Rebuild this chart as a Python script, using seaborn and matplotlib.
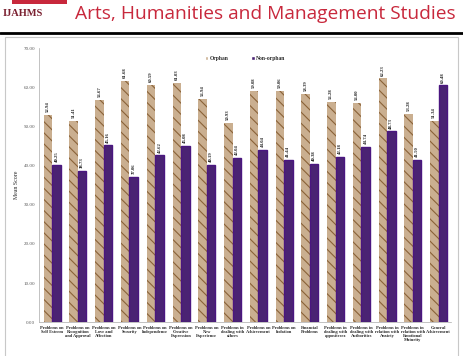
"""
Mean scores of problems: orphan vs non-orphan children.
"""

import matplotlib
matplotlib.use('Agg')
import matplotlib.pyplot as plt
import seaborn as sns
import pandas as pd
import numpy as np
from matplotlib.patches import Rectangle
from matplotlib.lines import Line2D

categories = [
    "Problems on\nSelf Esteem", "Problems on\nRecognition\nand Approval",
    "Problems on\nLove and\nAffection", "Problems on\nSecurity",
    "Problems on\nIndependence", "Problems on\nCreative\nExpression",
    "Problems on\nNew\nExperience", "Problems in\ndealing with\nothers",
    "Problems on\nAchievement", "Problems on\nIsolation",
    "Financial\nProblems", "Problems in\ndealing with\nappositesex",
    "Problems in\ndealing with\nAuthorities", "Problems in\nrelation with\nAnxiety",
    "Problems in\nrelation with\nEmotional\nMaturity", "General\nAchievement",
]
orphan = [52.94, 51.41, 56.67, 61.68, 60.59, 61.03, 56.94, 50.93,
          59.08, 59.06, 58.39, 56.28, 56.00, 62.23, 53.28, 51.34]
non_orphan = [40.25, 38.73, 45.16, 37.06, 42.62, 45.08, 40.19, 42.04,
              44.04, 41.44, 40.38, 42.18, 44.74, 48.73, 41.50, 60.48]
groups = ["Orphan", "Non-orphan"]

TAN = '#d4b086'
PURPLE = '#4a1680'

df = pd.DataFrame({
    'category': categories * 2,
    'group': [groups[0]] * len(categories) + [groups[1]] * len(categories),
    'score': orphan + non_orphan,
})

sns.set_style('white')
plt.rcParams['font.family'] = ['Liberation Serif', 'DejaVu Serif']
plt.rcParams['hatch.linewidth'] = 0.8

fig = plt.figure(figsize=(4.63, 3.56), dpi=100)

# header of the journal page
fig.text(0.005, 0.962, "IJAHMS", fontsize=7.5, color='#7a2030',
         fontfamily='Liberation Serif', fontweight='bold', va='center')
fig.add_artist(Rectangle((0.025, 0.99), 0.12, 0.02, transform=fig.transFigure,
                         color='#c8283c', lw=0))
fig.text(0.983, 0.962, "Arts, Humanities and Management Studies", fontsize=13.8,
         color='#c8283c', fontfamily='Open Sans', ha='right', va='center')
fig.add_artist(Line2D([0.0, 1.0], [0.908, 0.908], transform=fig.transFigure,
                      color='black', lw=2.0))
fig.add_artist(Rectangle((0.01, -0.01), 0.98, 0.905, transform=fig.transFigure,
                         fill=False, ec='#c8c8c8', lw=0.8))

ax = fig.add_axes([0.085, 0.095, 0.89, 0.77])
sns.barplot(data=df, x='category', y='score', hue='group',
            palette=[TAN, PURPLE], width=0.66, ax=ax, legend=True)

n = len(categories)
for i, bar in enumerate(ax.patches[:2 * n]):
    if i < n:
        bar.set_hatch('\\\\\\')
        bar.set_edgecolor('#8a6238')
        bar.set_linewidth(0)
    else:
        bar.set_edgecolor(PURPLE)

for cont in ax.containers:
    ax.bar_label(cont, fmt='%.2f', rotation=90, padding=2, fontsize=3.4,
                 fontweight='bold')

ax.set_ylim(0, 70)
ax.set_yticks(np.arange(0, 71, 10))
ax.set_yticklabels([f"{v:.2f}" for v in np.arange(0, 71, 10)], fontsize=3.6)
ax.set_xticks(range(n))
ax.set_xticklabels(categories, fontsize=3.2, fontweight='bold', linespacing=1.0)
ax.tick_params(axis='x', length=0, pad=3)
ax.tick_params(axis='y', length=1.5, width=0.4, pad=1.5, colors='#555555')
ax.set_xlabel("")
ax.set_ylabel("Mean Score", fontsize=4.2, labelpad=3)
ax.set_xlim(-0.5, n - 0.5)
ax.set_xticks(np.arange(-0.5, n, 1), minor=True)
ax.tick_params(axis='x', which='minor', length=2, width=0.4, color='#999999')

sns.despine(ax=ax)
for s in ['left', 'bottom']:
    ax.spines[s].set_color('#aaaaaa')
    ax.spines[s].set_linewidth(0.5)

handles, labels = ax.get_legend_handles_labels()
for h in handles:
    h.set_hatch(None)
ax.legend(handles, labels, loc='upper center', bbox_to_anchor=(0.5, 0.99),
          ncol=2, frameon=False, handlelength=0.6, handleheight=0.6,
          columnspacing=4, handletextpad=0.3, prop={'weight': 'bold', 'size': 4})

plt.savefig('out.png', dpi=100)
